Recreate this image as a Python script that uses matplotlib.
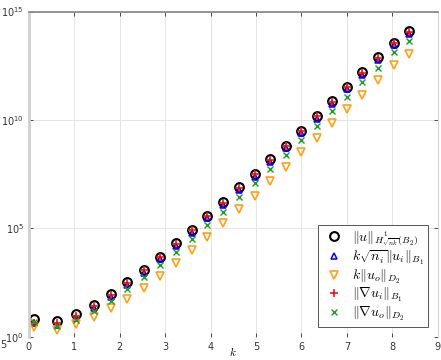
import numpy as np
import matplotlib
matplotlib.use('Agg')
import matplotlib.pyplot as plt
from matplotlib.font_manager import FontProperties

# wavenumbers k
k = [0.12, 0.63, 1.03, 1.43, 1.80, 2.16, 2.53, 2.88, 3.25, 3.59, 3.93, 4.28,
     4.63, 4.98, 5.31, 5.66, 6.00, 6.34, 6.67, 7.00, 7.34, 7.69, 8.03, 8.36]

# ||u||_{H^1_{sqrt(nk)}(B_2)}
norm_H1 = [6.8, 5.6, 11.5, 30, 95, 330, 1.26e3, 5.0e3, 2.1e4, 8.5e4, 3.8e5, 1.6e6,
           7.8e6, 3.2e7, 1.55e8, 6.6e8, 3.2e9, 1.55e10, 7.4e10, 3.4e11, 1.6e12,
           7.6e12, 3.7e13, 1.2e14]
# k sqrt(n_i) ||u_i||_{B_1}
norm_ui = [4.3, 3.5, 7.6, 21, 68, 240, 930, 3.8e3, 1.6e4, 6.5e4, 2.9e5, 1.23e6,
           5.9e6, 2.45e7, 1.17e8, 5.0e8, 2.4e9, 1.17e10, 5.6e10, 2.6e11, 1.2e12,
           5.8e12, 2.8e13, 9.1e13]
# k ||u_o||_{D_2}
norm_uo = [2.8, 2.2, 3.9, 8.1, 21, 56, 190, 660, 2.5e3, 1.02e4, 4.1e4, 1.74e5,
           8.3e5, 3.2e6, 1.55e7, 6.6e7, 3.2e8, 1.45e9, 6.9e9, 3.1e10, 1.45e11,
           6.9e11, 3.4e12, 1.1e13]
# ||grad u_i||_{B_1}
grad_ui = [4.5, 4.3, 9.5, 27, 87, 310, 1.17e3, 4.8e3, 2.0e4, 8.1e4, 3.6e5, 1.55e6,
           7.4e6, 3.1e7, 1.48e8, 6.3e8, 3.0e9, 1.48e10, 7.1e10, 3.2e11, 1.5e12,
           7.2e12, 3.5e13, 1.15e14]
# ||grad u_o||_{D_2}
grad_uo = [5.1, 3.3, 6.0, 15.8, 46, 160, 560, 2.1e3, 8.3e3, 3.2e4, 1.4e5, 6.0e5,
           2.9e6, 1.2e7, 5.5e7, 2.45e8, 1.17e9, 5.4e9, 2.6e10, 1.17e11, 5.5e11,
           2.6e12, 1.3e13, 4.2e13]

labels = [r'$\|u\|_{H^1_{\sqrt{nk}}(B_2)}$',
          r'$k\sqrt{n_i}\|u_i\|_{B_1}$',
          r'$k\|u_o\|_{D_2}$',
          r'$\|\nabla u_i\|_{B_1}$',
          r'$\|\nabla u_o\|_{D_2}$']

orange = '#FF9F1A'
green = '#1E9E1E'

fig = plt.figure(figsize=(4.41, 3.6), dpi=100)
ax = fig.add_axes([0.065, 0.064, 0.928, 0.904])

ax.semilogy(k, norm_H1, 'o', mfc='none', mec='k', mew=1.5, ms=6.3, label=labels[0])
ax.semilogy(k, norm_ui, '^', mfc='none', mec='b', mew=1.1, ms=5, label=labels[1])
ax.semilogy(k, norm_uo, 'v', mfc='none', mec=orange, mew=1.2, ms=5.5, label=labels[2])
ax.semilogy(k, grad_ui, '+', color='r', mew=1.1, ms=5.5, label=labels[3])
ax.semilogy(k, grad_uo, 'x', color=green, mew=1.0, ms=3.8, label=labels[4])

ax.set_xlim(0, 9)
ax.set_ylim(1, 1e15)
ax.set_xticks(np.arange(0, 10, 1))
ax.set_yticks([1e0, 1e5, 1e10, 1e15])
ax.minorticks_off()
ax.tick_params(direction='in', top=True, right=True, labelsize=7, colors='#333333',
               length=3, width=0.6)
ax.grid(True, color='#e4e4e4', linewidth=0.7)
ax.set_axisbelow(True)

ax.spines['top'].set_color('#8c8c8c')
ax.spines['top'].set_linewidth(1.3)
ax.spines['left'].set_color('#cfcfcf')
ax.spines['left'].set_linewidth(2)
ax.spines['right'].set_color('#d6d6d6')
ax.spines['bottom'].set_visible(False)

ax.set_xlabel('$k$', fontproperties=FontProperties(size=8, math_fontfamily='cm'),
              va='center')
ax.xaxis.set_label_coords(0.5, -0.045)

leg = ax.legend(loc='lower right', prop=FontProperties(size=10, math_fontfamily='cm'),
                fancybox=False, framealpha=1, edgecolor='#555555',
                borderaxespad=0.7, borderpad=0.3, handlelength=1.7,
                handletextpad=0.45, labelspacing=0.05)
leg.get_frame().set_linewidth(0.7)

fig.text(0.0, 0.042, '5', fontsize=7, color='#333333', ha='left', va='center')

fig.savefig('out.png', dpi=100)
